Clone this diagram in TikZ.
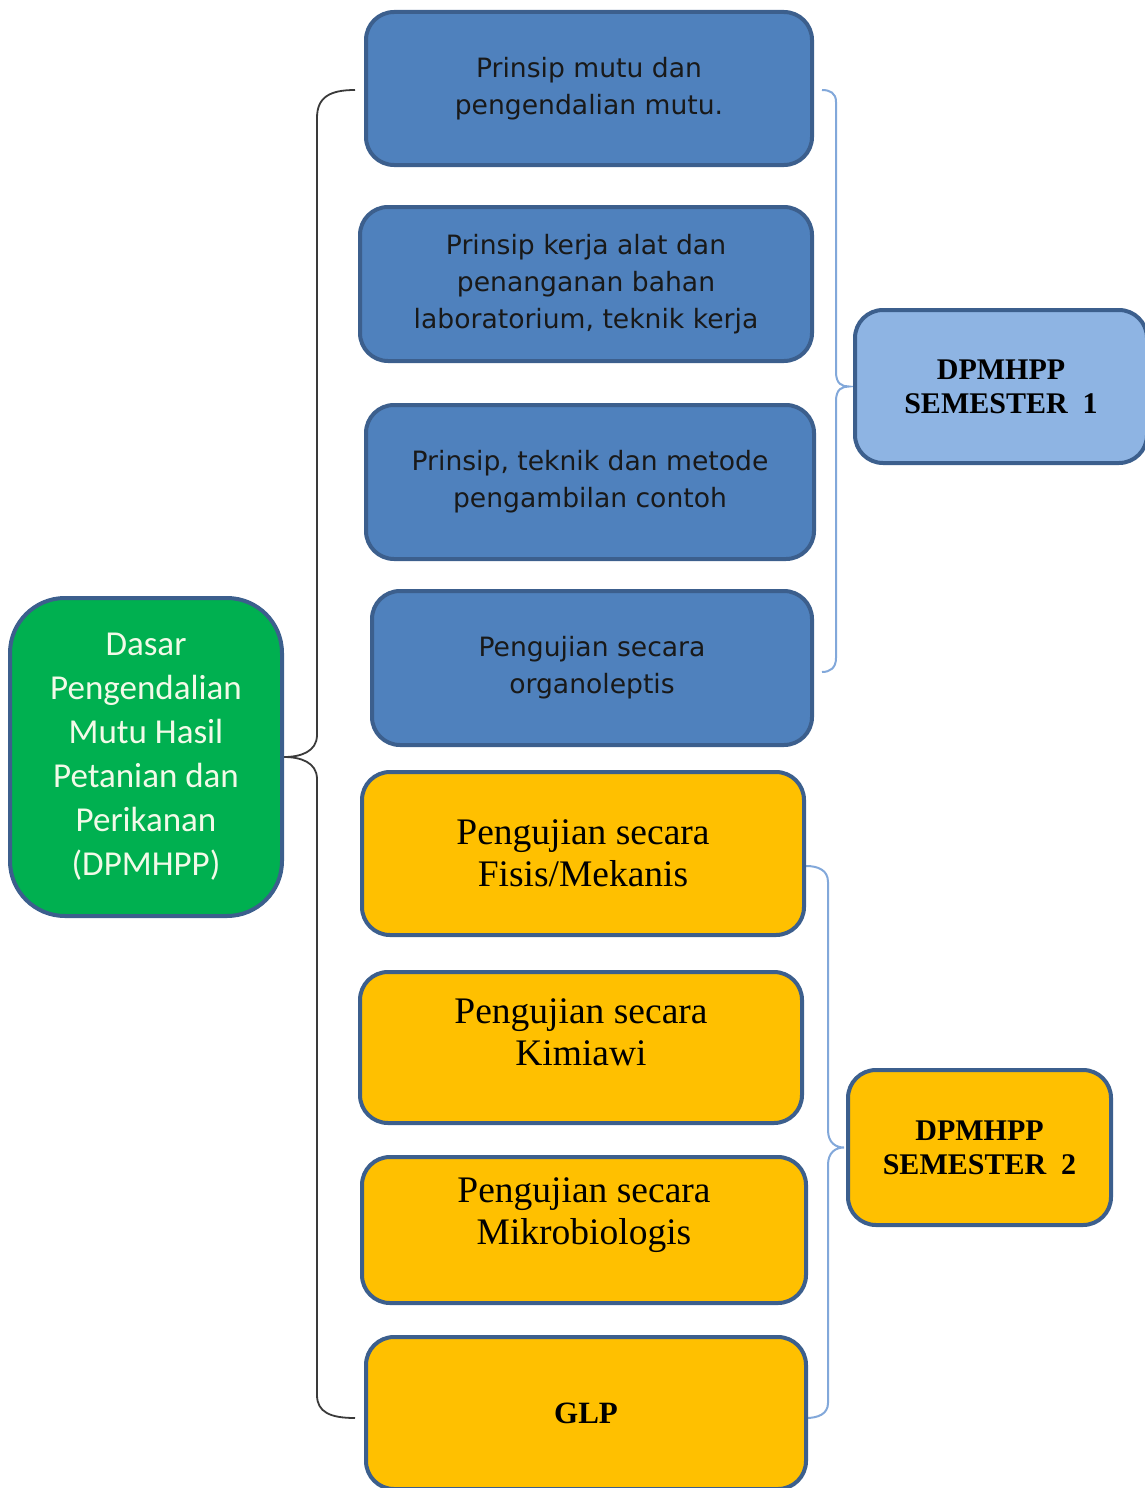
\documentclass[tikz,border=0pt]{standalone}
\usepackage{fontspec}
\newfontfamily\bluefont{DejaVu Sans}
\newfontfamily\greenfont{Carlito}
\newfontfamily\yserif{Liberation Serif}
\pgfdeclarelayer{bg}
\pgfsetlayers{bg,main}
\definecolor{bfill}{HTML}{4F81BD}
\definecolor{bline}{HTML}{3C5F8D}
\definecolor{yfill}{HTML}{FFC000}
\definecolor{gfill}{HTML}{00B050}
\definecolor{sfill}{HTML}{8EB4E3}
\definecolor{gtext}{HTML}{F2FAE8}
\definecolor{rbr}{HTML}{82A8DA}
\definecolor{lbr}{HTML}{3A3A3A}
\tikzset{
  box/.style={draw=bline, line width=4pt, rounded corners=28pt, inner sep=0pt, align=center},
  bluebox/.style={box, fill=bfill, text=black!90, font=\bluefont\fontsize{26.6}{37}\selectfont},
  ybox/.style={box, fill=yfill, text=black, font=\yserif\fontsize{37.5}{42}\selectfont},
  ytext/.style={inner sep=0pt, align=center, text=black, font=\yserif\fontsize{37.5}{42}\selectfont},
  gbox/.style={box, fill=gfill, rounded corners=55pt, text=gtext, font=\greenfont\fontsize{35}{44}\selectfont},
  sbox/.style={box, text=black, font=\yserif\bfseries\fontsize{30}{34}\selectfont},
  lbrace/.style={draw=lbr, line width=1.8pt},
  rbrace/.style={draw=rbr, line width=2pt},
}
\begin{document}
\begin{tikzpicture}[x=1pt,y=-1pt]
\useasboundingbox (0,0) rectangle (1145,1488);
% blue boxes
\node[bluebox, minimum width=446, minimum height=153] (b1) at (589,88.5) {Prinsip mutu dan\\pengendalian mutu.};
\node[bluebox, minimum width=452, minimum height=154] (b2) at (586,284) {Prinsip kerja alat dan\\penanganan bahan\\laboratorium, teknik kerja};
\node[bluebox, minimum width=448, minimum height=154] (b3) at (590,482) {Prinsip, teknik dan metode\\pengambilan contoh};
\node[bluebox, minimum width=440, minimum height=154] (b4) at (592,668) {Pengujian secara\\organoleptis};
% yellow boxes
\node[ybox, minimum width=442, minimum height=163] (y1) at (583,853.5) {Pengujian secara\\Fisis/Mekanis};
\node[ybox, minimum width=442, minimum height=151] (y2) at (581,1047.5) {};
\node[ytext] (y2t) at (581,1032) {Pengujian secara\\Kimiawi};
\node[ybox, minimum width=444, minimum height=146] (y3) at (584,1230) {};
\node[ytext] (y3t) at (584,1215) {Pengujian secara\\Mikrobiologis};
\node[ybox, minimum width=440, minimum height=152, font=\yserif\bfseries\fontsize{31}{36}\selectfont] (y4) at (586,1413) {GLP};
% green box
\node[gbox, minimum width=272, minimum height=318] (g) at (146,757) {Dasar\\Pengendalian\\Mutu Hasil\\Petanian dan\\Perikanan\\(DPMHPP)};
% semester boxes
\node[sbox, fill=sfill, minimum width=292, minimum height=153] (s1) at (1001,386.5) {DPMHPP\\SEMESTER\ \ 1};
\node[sbox, fill=yfill, minimum width=263, minimum height=155] (s2) at (979.5,1147.5) {DPMHPP\\SEMESTER\ \ 2};
% brace end points
\coordinate (lt) at (355,90);
\coordinate (lb) at (355,1418);
\coordinate (r1t) at (822,90);
\coordinate (r1b) at (822,672);
\coordinate (r2t) at (806,866);
\coordinate (r2b) at (806,1418);
\begin{pgfonlayer}{bg}
\draw[lbrace] (lt) .. controls (330,90) and (317,97) .. (317,118) -- (317,735)
  .. controls (317,752) and (300,757) .. (g.east)
  .. controls (300,757) and (317,762) .. (317,779) -- (317,1395)
  .. controls (317,1412) and (330,1418) .. (lb);
\draw[rbrace] (r1t) .. controls (830,90) and (836,93) .. (836,102) -- (836,372)
  .. controls (836,384) and (842,386.5) .. ([xshift=-4pt]s1.west)
  .. controls (842,386.5) and (836,389) .. (836,401) -- (836,658)
  .. controls (836,668) and (830,672) .. (r1b);
\draw[rbrace] (r2t) .. controls (818,866) and (828,870) .. (828,882) -- (828,1130)
  .. controls (828,1143) and (836,1147.5) .. ([xshift=-2pt]s2.west)
  .. controls (836,1147.5) and (828,1152) .. (828,1165) -- (828,1403)
  .. controls (828,1414) and (818,1418) .. (r2b);
\end{pgfonlayer}
\end{tikzpicture}
\end{document}
